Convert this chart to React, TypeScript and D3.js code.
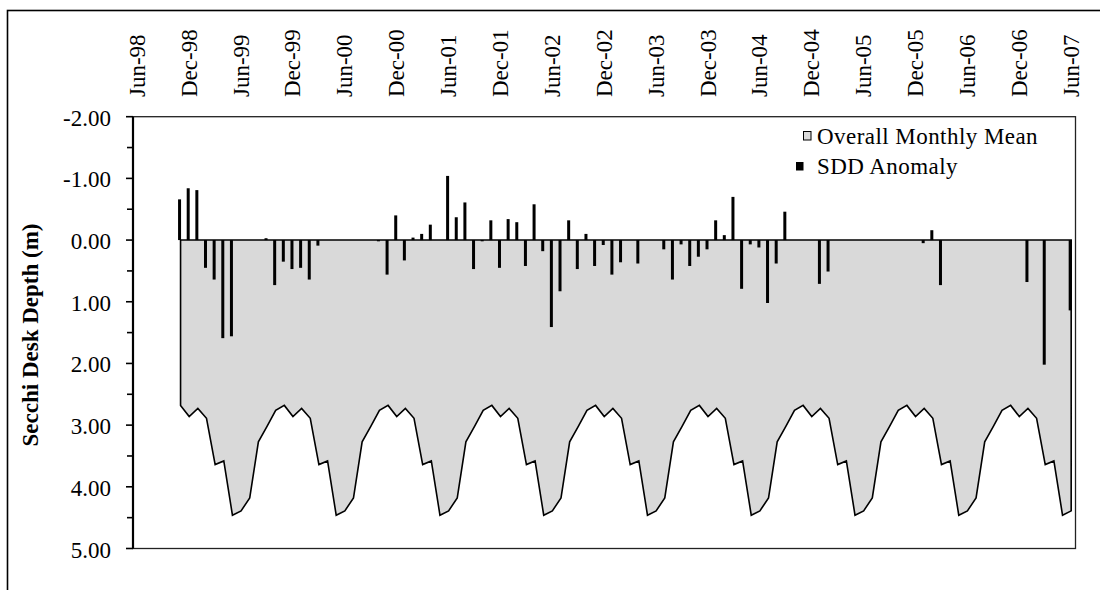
import React from "react";
import * as d3 from "d3";

// Calendar-month climatology of Secchi depth (m), Jan..Dec
const overallMonthlyMean = [2.73, 2.89, 3.64, 3.58, 4.46, 4.39, 4.18, 3.27, 3.02, 2.76, 2.68, 2.86];

// Monthly SDD anomaly (m), Nov-98 .. Jun-07; negative values are drawn upward on the reversed axis
const seriesStart = "Nov-98";
const sddAnomaly = [
  -0.66, -0.84, -0.81, 0.45, 0.64, 1.59, 1.56, 0, 0, 0, -0.03, 0.73, // Nov-98 .. Oct-99
  0.35, 0.47, 0.45, 0.64, 0.09, 0, 0, 0, 0, 0, 0, 0.02,              // Nov-99 .. Oct-00
  0.56, -0.4, 0.33, -0.04, -0.1, -0.25, 0, -1.04, -0.37, -0.61, 0.47, 0.02, // Nov-00 .. Oct-01
  -0.32, 0.45, -0.34, -0.29, 0.42, -0.58, 0.18, 1.41, 0.83, -0.32, 0.47, -0.1, // Nov-01 .. Oct-02
  0.42, 0.08, 0.56, 0.36, 0, 0.38, 0, 0, 0.15, 0.64, 0.07, 0.42,     // Nov-02 .. Oct-03
  0.27, 0.15, -0.32, -0.08, -0.7, 0.79, 0.07, 0.12, 1.02, 0.38, -0.46, 0, // Nov-03 .. Oct-04
  0, 0, 0.71, 0.51, 0, 0, 0, 0, 0, 0, 0, 0,                          // Nov-04 .. Oct-05
  0, 0, 0.05, -0.16, 0.73, 0, 0, 0, 0, 0, 0, 0,                      // Nov-05 .. Oct-06
  0, 0, 0.68, 0, 2.02, 0, 0, 1.14,                                   // Nov-06 .. Jun-07
];

const tickLabels = [
  "Jun-98", "Dec-98", "Jun-99", "Dec-99", "Jun-00", "Dec-00", "Jun-01", "Dec-01", "Jun-02",
  "Dec-02", "Jun-03", "Dec-03", "Jun-04", "Dec-04", "Jun-05", "Dec-05", "Jun-06", "Dec-06", "Jun-07",
];

const yTicks = [-2, -1, 0, 1, 2, 3, 4, 5];
const yMinorTicks = [-1.5, -0.5, 0.5, 1.5, 2.5, 3.5, 4.5];

const parse = d3.timeParse("%b-%y");
const fmtKey = d3.timeFormat("%Y-%m");
const fmtTick = (t: number) => (t < 0 ? "-" : "") + Math.abs(t).toFixed(2);

export default function App() {
  const W = 1100;
  const H = 590;
  const plot = { left: 133, right: 1075.5, top: 116.7, bottom: 548.5 };
  const font = "'Liberation Serif', 'Times New Roman', serif";

  const first = parse(tickLabels[0]) as Date;
  const last = parse(tickLabels[tickLabels.length - 1]) as Date;
  const months = d3.timeMonth.range(first, d3.timeMonth.offset(last, 1));
  const x = d3
    .scaleBand<string>()
    .domain(months.map(fmtKey))
    .range([plot.left, plot.right])
    .padding(0);
  const xc = (d: Date) => (x(fmtKey(d)) as number) + x.bandwidth() / 2;

  const y = d3.scaleLinear().domain([-2, 5]).range([plot.top, plot.bottom]);

  const start = parse(seriesStart) as Date;
  const series = sddAnomaly.map((v, i) => {
    const date = d3.timeMonth.offset(start, i);
    return { date, anomaly: v, mean: overallMonthlyMean[date.getMonth()] };
  });

  const areaPath = d3
    .area<{ date: Date; mean: number }>()
    .x((d) => xc(d.date))
    .y0(y(0))
    .y1((d) => y(d.mean))(series) as string;

  const barW = 3;

  return (
    <div style={{ position: "absolute", left: 0, top: 0 }}>
      <svg width={W} height={H} style={{ display: "block", background: "#fff" }}>
        {/* chart border */}
        <rect x={7.5} y={10.5} width={W + 20} height={H + 20} fill="none" stroke="#000" strokeWidth={1.6} />

        {/* plot frame */}
        <rect
          x={plot.left}
          y={plot.top}
          width={plot.right - plot.left}
          height={plot.bottom - plot.top}
          fill="none"
          stroke="#222"
          strokeWidth={1.3}
        />

        {/* overall monthly mean area */}
        <path d={areaPath} fill="#d9d9d9" stroke="#000" strokeWidth={1.6} strokeLinejoin="miter" />

        {/* anomaly bars */}
        {series
          .filter((d) => d.anomaly !== 0)
          .map((d, i) => {
            const cx = xc(d.date) - 1;
            const y0 = y(0);
            const y1 = y(d.anomaly);
            return (
              <rect
                key={i}
                x={cx - barW / 2}
                y={Math.min(y0, y1)}
                width={barW}
                height={Math.max(1.2, Math.abs(y1 - y0))}
                fill="#000"
              />
            );
          })}

        {/* y axis */}
        <line x1={plot.left} x2={plot.left} y1={plot.top} y2={plot.bottom} stroke="#000" strokeWidth={2.2} />
        {yTicks.map((t) => (
          <g key={t}>
            <line x1={plot.left - 7} x2={plot.left} y1={y(t)} y2={y(t)} stroke="#000" strokeWidth={1.6} />
            <text
              x={111}
              y={y(t) + 1.5}
              textAnchor="end"
              dominantBaseline="central"
              fontFamily={font}
              fontSize={23}
              fill="#000"
            >
              {fmtTick(t)}
            </text>
          </g>
        ))}
        {yMinorTicks.map((t) => (
          <line key={t} x1={plot.left - 6} x2={plot.left} y1={y(t)} y2={y(t)} stroke="#000" strokeWidth={1.6} />
        ))}

        {/* axis title */}
        <text
          transform={`translate(30,335) rotate(-90)`}
          textAnchor="middle"
          dominantBaseline="central"
          fontFamily={font}
          fontWeight="bold"
          fontSize={23}
          fill="#000"
        >
          Secchi Desk Depth (m)
        </text>

        {/* top month labels */}
        {tickLabels.map((lab) => {
          const d = parse(lab) as Date;
          return (
            <text
              key={lab}
              transform={`translate(${xc(d)},97) rotate(-90)`}
              textAnchor="start"
              dominantBaseline="central"
              fontFamily={font}
              fontSize={23}
              fill="#000"
            >
              {lab}
            </text>
          );
        })}

        {/* legend */}
        <rect x={803.5} y={131.5} width={7.5} height={8.5} fill="#d9d9d9" stroke="#000" strokeWidth={1} />
        <text x={817} y={143.5} fontFamily={font} fontSize={23} letterSpacing={0.45} fill="#000">
          Overall Monthly Mean
        </text>
        <rect x={796} y={162} width={7.5} height={8.5} fill="#000" />
        <text x={817} y={173.5} fontFamily={font} fontSize={23} letterSpacing={0.45} fill="#000">
          SDD Anomaly
        </text>
      </svg>
    </div>
  );
}
